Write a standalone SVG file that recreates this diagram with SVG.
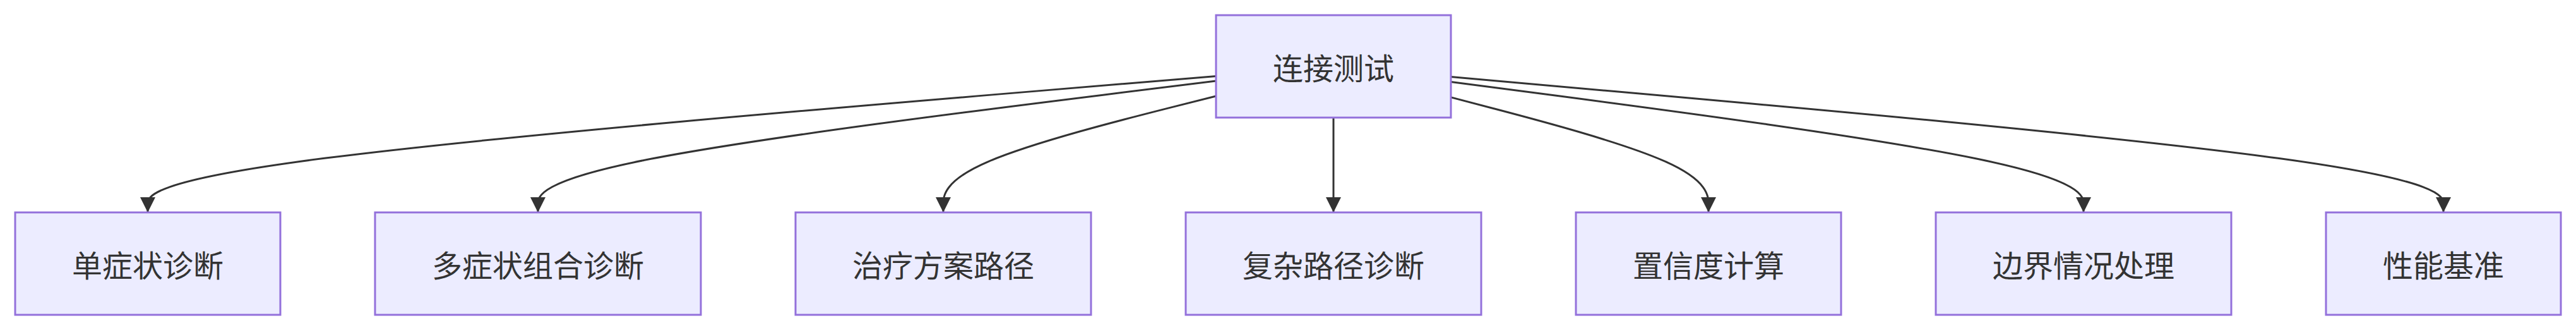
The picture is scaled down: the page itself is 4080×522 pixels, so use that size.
<svg xmlns="http://www.w3.org/2000/svg" width="4080" height="522" viewBox="0 0 4080 522">
<style>
.node rect{fill:#ECECFF;stroke:#9370DB;stroke-width:3}
.node text{font-family:"Noto Sans CJK SC","Liberation Sans",sans-serif;font-size:48px;fill:#333333;text-anchor:middle;dominant-baseline:central}
.edges path{fill:none;stroke:#333333;stroke-width:3;marker-end:url(#arrow)}
</style>
<defs>
<marker id="arrow" viewBox="0 0 10 10" refX="10" refY="5" markerUnits="userSpaceOnUse" markerWidth="24" markerHeight="24" orient="auto">
<path d="M0,0 L10,5 L0,10 z" fill="#333333"/>
</marker>
</defs>
<rect width="4080" height="522" fill="#ffffff"/>
<g class="edges">
<path d="M1926,120.45 L1644,143.88 C1362,167.3 798,214.15 516,250.08 C234,286 234,311 234,323.5 L234,336"/>
<path d="M1926,128.03 L1747,150.19 C1568,172.35 1210,216.68 1031,251.34 C852,286 852,311 852,323.5 L852,336"/>
<path d="M1926,151.95 L1854,170.13 C1782,188.3 1638,224.65 1566,255.33 C1494,286 1494,311 1494,323.5 L1494,336"/>
<path d="M2112,186 L2112,336"/>
<path d="M2298,153.85 L2366,171.71 C2434,189.57 2570,225.28 2638,255.64 C2706,286 2706,311 2706,323.5 L2706,336"/>
<path d="M2298,129.42 L2465,151.35 C2632,173.28 2966,217.14 3133,251.57 C3300,286 3300,311 3300,323.5 L3300,336"/>
<path d="M2298,121.5 L2560,144.75 C2822,168 3346,214.5 3608,250.25 C3870,286 3870,311 3870,323.5 L3870,336"/>
</g>
<g id="node-root" class="node"><rect x="1926" y="24" width="372" height="162"/><text x="2112" y="105">连接测试</text></g>
<g id="node-1" class="node"><rect x="24" y="336" width="420" height="162"/><text x="234" y="417">单症状诊断</text></g>
<g id="node-2" class="node"><rect x="594" y="336" width="516" height="162"/><text x="852" y="417">多症状组合诊断</text></g>
<g id="node-3" class="node"><rect x="1260" y="336" width="468" height="162"/><text x="1494" y="417">治疗方案路径</text></g>
<g id="node-4" class="node"><rect x="1878" y="336" width="468" height="162"/><text x="2112" y="417">复杂路径诊断</text></g>
<g id="node-5" class="node"><rect x="2496" y="336" width="420" height="162"/><text x="2706" y="417">置信度计算</text></g>
<g id="node-6" class="node"><rect x="3066" y="336" width="468" height="162"/><text x="3300" y="417">边界情况处理</text></g>
<g id="node-7" class="node"><rect x="3684" y="336" width="372" height="162"/><text x="3870" y="417">性能基准</text></g>
</svg>
